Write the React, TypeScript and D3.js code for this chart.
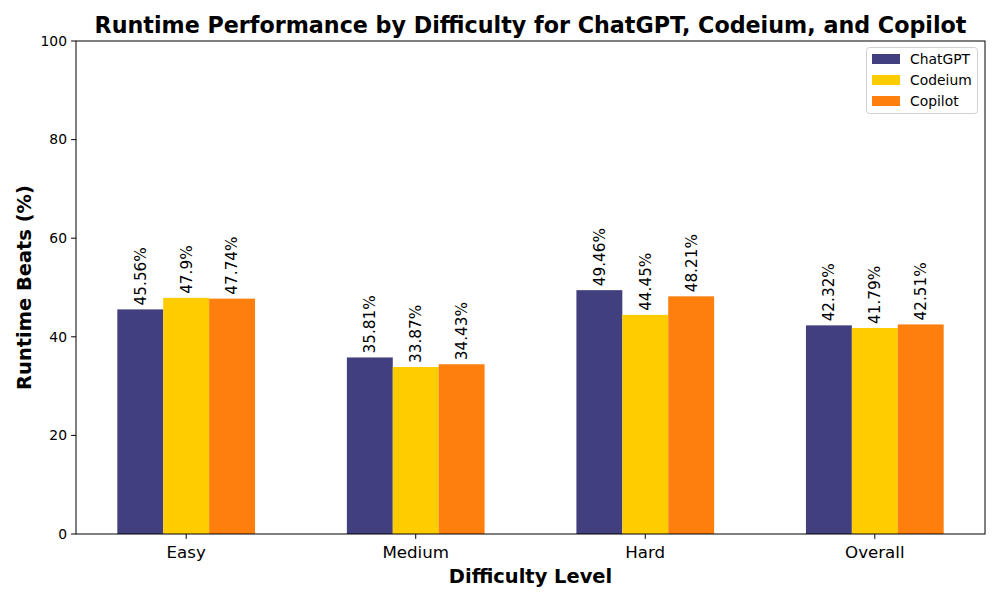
import { useEffect, useRef } from "react";
import * as d3 from "d3";

const categories = ["Easy", "Medium", "Hard", "Overall"];
const seriesNames = ["ChatGPT", "Codeium", "Copilot"];
const chatgpt = [45.56, 35.81, 49.46, 42.32];
const codeium = [47.9, 33.87, 44.45, 41.79];
const copilot = [47.74, 34.43, 48.21, 42.51];
const yTicks = [0, 20, 40, 60, 80, 100];
const colors = ["#413f7d", "#ffcc00", "#ff7f0e"];

const pt = (p: number) => (p * 100) / 72;

const App = () => {
  const ref = useRef<SVGSVGElement>(null);

  useEffect(() => {
    const svg = d3.select(ref.current);
    svg.selectAll("*").remove();
    const W = 1000,
      H = 600,
      left = 76,
      right = 985,
      top = 41,
      bottom = 534;
    const font = "DejaVu Sans, sans-serif";
    const series = [chatgpt, codeium, copilot];
    const barW = 0.2;

    svg.append("rect").attr("width", W).attr("height", H).attr("fill", "#fff");

    const x = d3.scaleLinear().domain([-0.48, 3.48]).range([left, right]);
    const y = d3.scaleLinear().domain([0, 100]).range([bottom, top]);

    const g = svg.append("g");
    series.forEach((vals, si) => {
      const off = (si - 1) * barW;
      vals.forEach((v, ci) => {
        const x0 = x(ci + off - barW / 2);
        const x1 = x(ci + off + barW / 2);
        g.append("rect")
          .attr("x", x0)
          .attr("y", y(v))
          .attr("width", x1 - x0)
          .attr("height", y(0) - y(v))
          .attr("fill", colors[si]);
        const cx = (x0 + x1) / 2;
        const ty = y(v) - 4;
        g.append("text")
          .attr("transform", `translate(${cx},${ty}) rotate(-90)`)
          .attr("dy", "0.35em")
          .attr("font-family", font)
          .attr("font-size", pt(11))
          .attr("text-anchor", "start")
          .text(`${v}%`);
      });
    });

    // axes frame
    svg
      .append("rect")
      .attr("x", left)
      .attr("y", top)
      .attr("width", right - left)
      .attr("height", bottom - top)
      .attr("fill", "none")
      .attr("stroke", "#000")
      .attr("stroke-width", 1);

    // y ticks
    yTicks.forEach((t) => {
      svg
        .append("line")
        .attr("x1", left - 4.9)
        .attr("x2", left)
        .attr("y1", y(t))
        .attr("y2", y(t))
        .attr("stroke", "#000");
      svg
        .append("text")
        .attr("x", left - 9)
        .attr("y", y(t))
        .attr("dy", "0.35em")
        .attr("text-anchor", "end")
        .attr("font-family", font)
        .attr("font-size", pt(10))
        .text(t);
    });

    // x ticks
    categories.forEach((c, i) => {
      svg
        .append("line")
        .attr("x1", x(i))
        .attr("x2", x(i))
        .attr("y1", bottom)
        .attr("y2", bottom + 4.9)
        .attr("stroke", "#000");
      svg
        .append("text")
        .attr("x", x(i))
        .attr("y", bottom + 18)
        .attr("dy", "0.35em")
        .attr("text-anchor", "middle")
        .attr("font-family", font)
        .attr("font-size", pt(12))
        .text(c);
    });

    svg
      .append("text")
      .attr("x", (left + right) / 2)
      .attr("y", 25)
      .attr("dy", "0.35em")
      .attr("text-anchor", "middle")
      .attr("font-family", font)
      .attr("font-weight", "bold")
      .attr("font-size", pt(16))
      .text("Runtime Performance by Difficulty for ChatGPT, Codeium, and Copilot");

    svg
      .append("text")
      .attr("x", (left + right) / 2)
      .attr("y", 576)
      .attr("dy", "0.35em")
      .attr("text-anchor", "middle")
      .attr("font-family", font)
      .attr("font-weight", "bold")
      .attr("font-size", pt(14))
      .text("Difficulty Level");

    svg
      .append("text")
      .attr("transform", `translate(24,${(top + bottom) / 2}) rotate(-90)`)
      .attr("dy", "0.35em")
      .attr("text-anchor", "middle")
      .attr("font-family", font)
      .attr("font-weight", "bold")
      .attr("font-size", pt(14))
      .text("Runtime Beats (%)");

    // legend
    const lg = svg.append("g");
    lg.append("rect")
      .attr("x", 866.5)
      .attr("y", 47.5)
      .attr("width", 111)
      .attr("height", 66)
      .attr("rx", 3)
      .attr("fill", "#fff")
      .attr("fill-opacity", 0.8)
      .attr("stroke", "#d0d0d0");
    seriesNames.forEach((n, i) => {
      const cy = 59 + i * 21;
      lg.append("rect")
        .attr("x", 872)
        .attr("y", cy - 5)
        .attr("width", 28)
        .attr("height", 10)
        .attr("fill", colors[i]);
      lg.append("text")
        .attr("x", 910)
        .attr("y", cy)
        .attr("dy", "0.35em")
        .attr("font-family", font)
        .attr("font-size", pt(10))
        .text(n);
    });
  }, []);

  return <svg ref={ref} width={1000} height={600} style={{ display: "block", margin: -8 }} />;
};

export default App;
